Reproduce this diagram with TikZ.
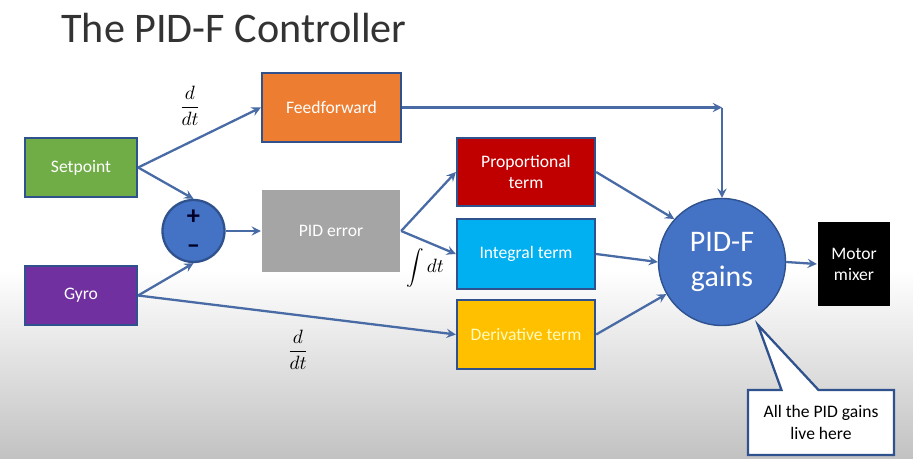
\documentclass[tikz,border=0pt]{standalone}
\usepackage{fontspec}
\setmainfont{Carlito}
\usetikzlibrary{shapes.callouts}
\definecolor{edge}{RGB}{47,82,143}
\definecolor{flow}{RGB}{72,106,165}
\definecolor{spgreen}{RGB}{112,173,71}
\definecolor{fforange}{RGB}{237,125,49}
\definecolor{errgray}{RGB}{165,165,165}
\definecolor{gyropurple}{RGB}{112,48,160}
\definecolor{propred}{RGB}{192,0,0}
\definecolor{intblue}{RGB}{0,176,240}
\definecolor{dergold}{RGB}{255,192,0}
\definecolor{gainblue}{RGB}{68,114,196}
\begin{document}
\begin{tikzpicture}[>=stealth,
    box/.style={draw=edge,line width=1.3pt,text=white,align=center,
      font=\fontsize{10}{12}\selectfont,inner sep=2pt},
    sig/.style={->,draw=flow,line width=1.3pt},
    lbl/.style={font=\fontsize{11}{13}\selectfont,inner sep=1pt}]
	  \useasboundingbox (0,0) rectangle (18.26,-9.18);
	  \fill[white] (0,0) rectangle (18.26,-9.18);
	  \shade[top color=white,bottom color=black!24] (0,-5.4) rectangle (18.26,-9.18);
	  \node[anchor=west,inner sep=0pt,text=black!80,font=\fontsize{24}{28}\selectfont] (title) at (1.22,-0.56) {The PID-F Controller};
	  \node[box,fill=spgreen,minimum width=2.24cm,minimum height=1.18cm] (sp) at (1.62,-3.35) {Setpoint};
	  \node[box,fill=gyropurple,minimum width=2.24cm,minimum height=1.18cm] (gyro) at (1.62,-5.91) {Gyro};
	  \node[box,fill=fforange,minimum width=2.78cm,minimum height=1.38cm] (ff) at (6.63,-2.15) {Feedforward};
	  \node[circle,draw=edge,line width=1.3pt,fill=gainblue,minimum size=1.24cm,inner sep=0pt] (sum) at (3.87,-4.62) {};
	  \node[font=\bfseries\fontsize{15}{15}\selectfont,text=black!85!blue] (plus) at (3.87,-4.34) {+};
	  \node[font=\bfseries\fontsize{15}{15}\selectfont,text=black!85!blue] (minus) at (3.87,-4.98) {–};
	  \node[box,draw=none,fill=errgray,minimum width=2.76cm,minimum height=1.64cm] (err) at (6.62,-4.62) {PID error};
	  \node[box,fill=propred,minimum width=2.76cm,minimum height=1.36cm] (prop) at (10.52,-3.44) {Proportional\\term};
	  \node[box,fill=intblue,minimum width=2.76cm,minimum height=1.40cm] (int) at (10.52,-5.08) {Integral term};
	  \node[box,fill=dergold,text=yellow!25,minimum width=2.76cm,minimum height=1.38cm] (der) at (10.52,-6.69) {Derivative term};
	  \node[circle,draw=edge,line width=0.8pt,fill=gainblue,text=white,minimum size=2.54cm,align=center,font=\fontsize{17}{20}\selectfont] (gains) at (14.44,-5.24) {PID-F\\gains};
	  \node[box,draw=none,fill=black,minimum width=1.44cm,minimum height=1.68cm] (mix) at (17.08,-5.28) {Motor\\mixer};
	  \node[rectangle callout,draw=edge,line width=1.3pt,fill=white,align=center,minimum width=2.92cm,minimum height=1.3cm,
	    callout absolute pointer={(15.16,-6.5)},callout pointer width=0.74cm,font=\fontsize{10}{12}\selectfont] (note) at (16.42,-8.45) {All the PID gains\\live here};
	  \coordinate (corner) at (14.44,-2.15);
	  \node[lbl] (ddt1) at (3.8,-2.12) {$\displaystyle\frac{d}{dt}$};
	  \node[lbl] (ddt2) at (5.96,-7.0) {$\displaystyle\frac{d}{dt}$};
	  \node[lbl] (intdt) at (8.5,-5.36) {$\displaystyle\int dt$};
	  \draw[sig] (sp.east) -- (ff.west);
	  \draw[sig] (sp.east) -- (sum.north);
	  \draw[sig] (gyro.east) -- (sum.south);
	  \draw[sig] (gyro.east) -- (der.west);
	  \draw[sig] (sum.east) -- (err.west);
	  \draw[sig] (err.east) -- (prop.west);
	  \draw[sig] (err.east) -- (int.west);
	  \draw[sig] (ff.east) -- (corner);
	  \draw[sig] (corner) -- (gains.north);
	  \draw[sig] (prop.east) -- (gains.138);
	  \draw[sig] (int.east) -- (gains.west);
	  \draw[sig] (der.east) -- (gains.210);
	  \draw[sig] (gains.east) -- (mix.west);
	\end{tikzpicture}
\end{document}
